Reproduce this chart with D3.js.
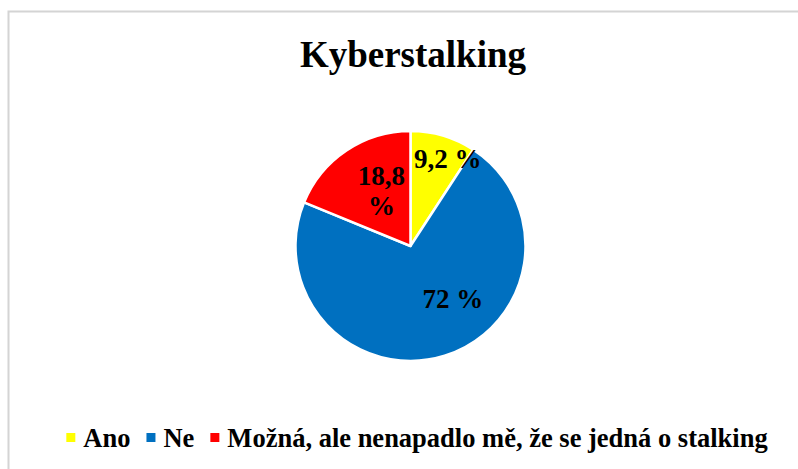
<!DOCTYPE html>
<html>
<head>
<meta charset="utf-8">
<script src="https://cdn.jsdelivr.net/npm/d3@7"></script>
<style>
  body { margin: 0; background: #fff; }
  text { font-family: "Liberation Serif", "Times New Roman", serif; font-weight: bold; }
</style>
</head>
<body>
<svg id="chart" width="798" height="469"></svg>
<script>
const title = "Kyberstalking";
const categories = ["Ano", "Ne", "Možná, ale nenapadlo mě, že se jedná o stalking"];
const values = [9.2, 72, 18.8];
const labels = [["9,2 %"], ["72 %"], ["18,8", "%"]];
const colors = ["#FFFF00", "#0070C0", "#FF0000"];

const width = 798, height = 469;
const radius = 115;
const cx = 410.5, cy = 246;

// label placement tweaks (Excel "best fit" is not at the centroid)
const labelK = [0.83, 0.6, 0.5];
const labelShift = [[10, 4], [22, -13], [3, -8]];

const svg = d3.select("#chart");

// chart area frame (cropped at right/bottom)
svg.append("rect")
  .attr("x", 8.5).attr("y", 11.5)
  .attr("width", 800).attr("height", 470)
  .attr("fill", "#fff")
  .attr("stroke", "#d4d4d4")
  .attr("stroke-width", 2);

svg.append("text")
  .attr("x", 413).attr("y", 67)
  .attr("text-anchor", "middle")
  .attr("font-size", 37)
  .text(title);

const data = categories.map((c, i) => ({name: c, value: values[i], i: i}));
const pie = d3.pie().value(d => d.value).sort(null);
const arcs = pie(data);
const arcGen = d3.arc().innerRadius(0).outerRadius(radius);

const g = svg.append("g").attr("transform", `translate(${cx},${cy})`);

g.selectAll(".slice")
  .data(arcs)
  .enter()
  .append("path")
  .attr("class", "slice")
  .attr("d", arcGen)
  .attr("fill", d => colors[d.data.i])
  .attr("stroke", "white")
  .attr("stroke-width", 2.5)
  .attr("stroke-linejoin", "round");

const lineH = 30;
g.selectAll(".lbl")
  .data(arcs)
  .enter()
  .append("text")
  .attr("class", "lbl")
  .attr("font-size", 27)
  .attr("text-anchor", "middle")
  .attr("transform", d => {
    const k = labelK[d.data.i];
    const c = d3.arc().innerRadius(radius * k).outerRadius(radius * k).centroid(d);
    const s = labelShift[d.data.i];
    return `translate(${c[0] + s[0]},${c[1] + s[1]})`;
  })
  .each(function(d) {
    const lines = labels[d.data.i];
    const t = d3.select(this);
    const y0 = -(lines.length - 1) * lineH / 2;
    lines.forEach((ln, j) => {
      t.append("tspan")
        .attr("x", 0)
        .attr("y", y0 + j * lineH)
        .attr("dy", "0.35em")
        .text(ln);
    });
  });

// legend
const legend = svg.append("g");
const legY = 438;
const gap = 16;
let x = 0;
categories.forEach((c, i) => {
  legend.append("rect")
    .attr("x", x).attr("y", legY - 5)
    .attr("width", 9).attr("height", 9)
    .attr("fill", colors[i]);
  const t = legend.append("text")
    .attr("x", x + 17).attr("y", legY)
    .attr("dy", "0.35em")
    .attr("font-size", 26.5)
    .text(c);
  x += 17 + t.node().getComputedTextLength() + gap;
});
const legW = x - gap;
legend.attr("transform", `translate(${(66 + 768) / 2 - legW / 2},0)`);
</script>
</body>
</html>
